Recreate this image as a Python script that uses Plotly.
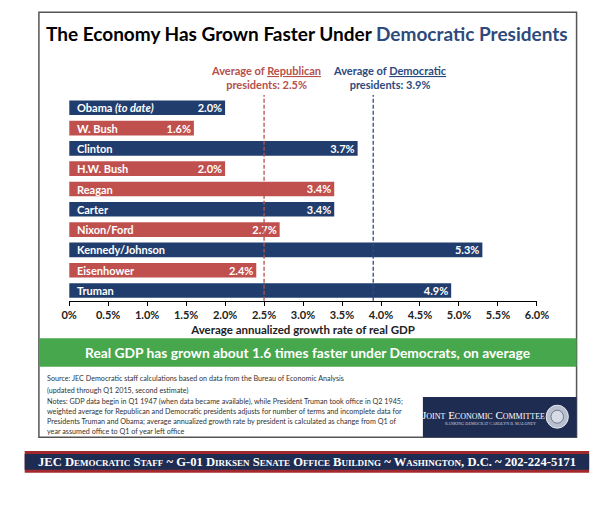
import plotly.graph_objects as go

# ---------------- data ----------------
presidents = ["Obama <i>(to date)</i>", "W. Bush", "Clinton", "H.W. Bush", "Reagan",
              "Carter", "Nixon/Ford", "Kennedy/Johnson", "Eisenhower", "Truman"]
party = ["D", "R", "D", "R", "R", "D", "R", "D", "R", "D"]
growth = [2.0, 1.6, 3.7, 2.0, 3.4, 3.4, 2.7, 5.3, 2.4, 4.9]
rep_avg = 2.5
dem_avg = 3.9
tick_vals = [0, 0.5, 1.0, 1.5, 2.0, 2.5, 3.0, 3.5, 4.0, 4.5, 5.0, 5.5, 6.0]
tick_text = ["0%", "0.5%", "1.0%", "1.5%", "2.0%", "2.5%", "3.0%", "3.5%", "4.0%",
             "4.5%", "5.0%", "5.5%", "6.0%"]

# The page body has an 8px margin, so the figure is sized to fit the 613x507 window.
OFF = 8
W, H = 613 - 2 * OFF, 507 - 2 * OFF
NAVY = "#213d6e"
RED = "#c0504d"
GREEN = "#47a74c"
DARK = "#1f2c52"
FONT = "Lato"


def px(x):
    return (x - OFF) / W


def py(y):
    return 1 - (y - OFF) / H


colors = [NAVY if p == "D" else RED for p in party]

fig = go.Figure()
fig.add_trace(go.Bar(
    y=presidents, x=growth, orientation="h",
    marker=dict(color=colors, line=dict(width=0)),
    text=[f"{v:.1f}%" for v in growth],
    textposition="inside", insidetextanchor="end",
    textfont=dict(family=FONT, size=11, color="white", weight="bold"),
    cliponaxis=False, hoverinfo="skip",
))

shapes = []
annotations = []


def note(x, y, text, size, color, family=FONT, xanchor="center", **font_extra):
    annotations.append(dict(x=px(x), y=py(y), xref="paper", yref="paper", showarrow=False,
                            xanchor=xanchor, yanchor="middle", text=text,
                            font=dict(family=family, size=size, color=color, **font_extra)))


# frame
shapes.append(dict(type="rect", xref="paper", yref="paper",
                   x0=px(31.7), x1=px(588), y0=py(437.3), y1=py(12.3),
                   line=dict(color="#555555", width=1.5), fillcolor="rgba(0,0,0,0)", layer="below"))
# green band
shapes.append(dict(type="rect", xref="paper", yref="paper",
                   x0=px(31.7), x1=px(588), y0=py(366.7), y1=py(338.3),
                   line=dict(width=0), fillcolor=GREEN))
# logo box
shapes.append(dict(type="rect", xref="paper", yref="paper",
                   x0=px(429), x1=px(588), y0=py(437.3), y1=py(397),
                   line=dict(width=0), fillcolor=DARK))
shapes.append(dict(type="circle", xref="paper", yref="paper",
                   x0=px(556.5), x1=px(579.5), y0=py(428.2), y1=py(405.2),
                   line=dict(color="#e8eaf0", width=1), fillcolor="#b8bfcf"))
shapes.append(dict(type="circle", xref="paper", yref="paper",
                   x0=px(561.5), x1=px(574.5), y0=py(423.2), y1=py(410.2),
                   line=dict(color="#6d7893", width=1), fillcolor="#d7dbe4"))
# bottom banner
shapes.append(dict(type="rect", xref="paper", yref="paper",
                   x0=px(17), x1=px(601), y0=py(472.7), y1=py(451),
                   line=dict(width=0), fillcolor="#a3282d"))
shapes.append(dict(type="rect", xref="paper", yref="paper",
                   x0=px(17), x1=px(601), y0=py(469.8), y1=py(454),
                   line=dict(width=0), fillcolor=DARK))

# average lines
for val, col in [(rep_avg, "#b5504d"), (dem_avg, "#2c4a7e")]:
    shapes.append(dict(type="line", xref="x", yref="paper", x0=val, x1=val,
                       y0=py(300.7), y1=py(95), line=dict(color=col, width=1.3, dash="4px,2px")))

# president names inside bars
for name in presidents:
    annotations.append(dict(x=0, y=name, xref="x", yref="y", text=f"<b>{name}</b>",
                            xanchor="left", yanchor="middle", xshift=6, showarrow=False,
                            font=dict(family=FONT, size=11, color="white")))

# title
note(309.5, 34, "The Economy Has Grown Faster Under <span style='color:#2e4a7c'>Democratic Presidents</span>",
     19, "black", weight="bold")
# averages
annotations.append(dict(x=rep_avg, y=py(77), xref="x", yref="paper", showarrow=False,
                        xanchor="center", yanchor="middle", xshift=1.5,
                        text=f"<b>Average of <u>Republican</u><br>presidents: {rep_avg:.1f}%</b>",
                        font=dict(family=FONT, size=11, color="#b5504d")))
annotations.append(dict(x=dem_avg, y=py(77), xref="x", yref="paper", showarrow=False,
                        xanchor="center", yanchor="middle", xshift=17,
                        text=f"<b>Average of <u>Democratic</u><br>presidents: {dem_avg:.1f}%</b>",
                        font=dict(family=FONT, size=11, color="#2c4a7e")))
# green banner text
note(310, 352.5, "Real GDP has grown about 1.6 times faster under Democrats, on average",
     13.8, "white", weight="bold")
# source & notes
small_lines = [
    (378.5, "Source: JEC Democratic staff calculations based on data from the Bureau of Economic Analysis"),
    (390.0, "(updated through Q1 2015, second estimate)"),
    (401.7, "Notes: GDP data begin in Q1 1947 (when data became available), while President Truman took office in Q2 1945;"),
    (411.7, "weighted average for Republican and Democratic presidents adjusts for number of terms and incomplete data for"),
    (421.7, "Presidents Truman and Obama; average annualized growth rate by president is calculated as change from Q1 of"),
    (431.7, "year assumed office to Q1 of year left office"),
]
for yy, t in small_lines:
    note(37.5, yy, t, 7.2, "#333333", xanchor="left")
# logo text
note(492, 414.5, "Joint Economic Committee", 11, "white", family="Liberation Serif", variant="small-caps")
note(499, 423.3, "RANKING DEMOCRAT CAROLYN B. MALONEY", 4.2, "#c9cedb", family="Liberation Serif")
# bottom banner text
note(309, 462.3, "<b>JEC Democratic Staff ~ G-01 Dirksen Senate Office Building ~ Washington, D.C. ~ 202-224-5171</b>",
     12.6, "white", family="Liberation Serif", variant="small-caps")

fig.update_layout(
    width=W, height=H, autosize=False,
    margin=dict(l=0, r=0, t=0, b=0),
    paper_bgcolor="white", plot_bgcolor="white",
    showlegend=False, bargap=0.28,
    shapes=shapes, annotations=annotations,
    uniformtext=dict(minsize=11, mode="show"),
    xaxis=dict(domain=[px(63), px(547)], range=[0, 6], tickvals=tick_vals, ticktext=tick_text,
               ticks="outside", ticklen=4, tickcolor="black", tickwidth=1,
               showline=True, linecolor="black", linewidth=1, showgrid=False, zeroline=False,
               tickfont=dict(family=FONT, size=11, color="#222222", weight="bold"),
               title=dict(text="<b>Average annualized growth rate of real GDP</b>", standoff=6,
                          font=dict(family=FONT, size=11.5, color="#222222")),
               fixedrange=True),
    yaxis=dict(domain=[py(300.7), py(97.6)], autorange="reversed", showticklabels=False,
               showgrid=False, zeroline=False, showline=False, ticks="", fixedrange=True),
)

fig.write_html("out.html")
